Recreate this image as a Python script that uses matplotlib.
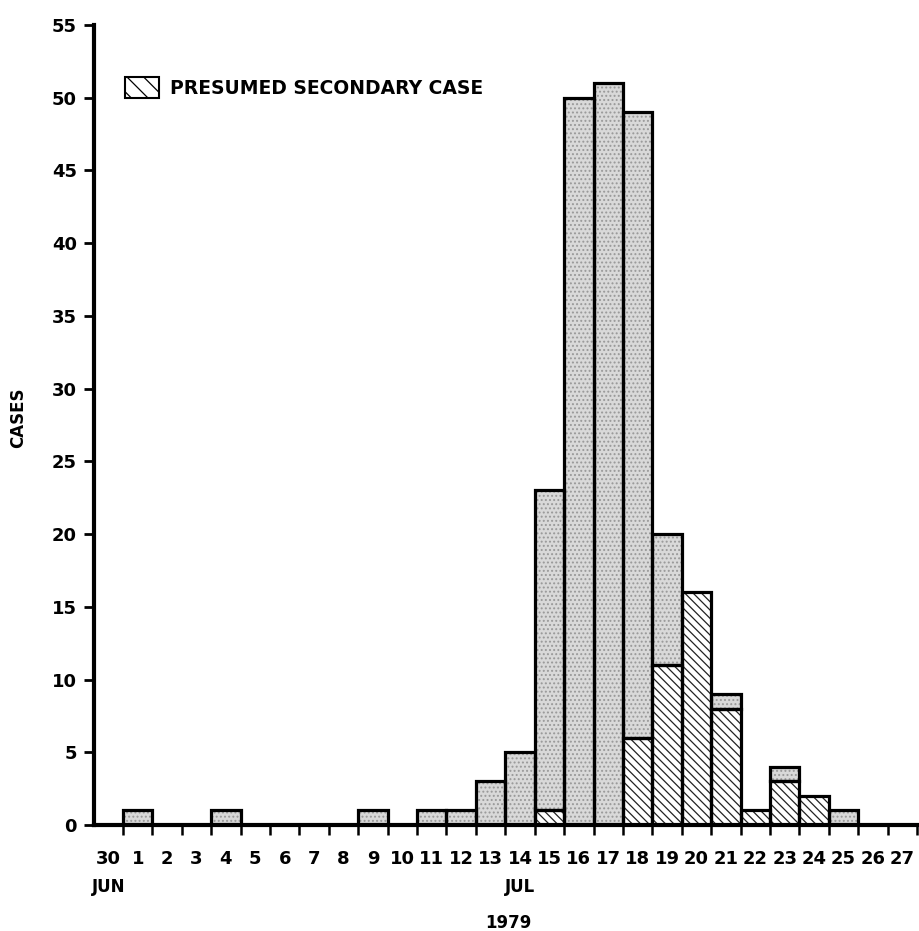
import numpy as np
import matplotlib
matplotlib.use("Agg")
import matplotlib.pyplot as plt
from matplotlib.patches import Patch

# --- data: cases per onset day, 30 Jun .. 27 Jul 1979 ---
day_labels = ["30"] + [str(d) for d in range(1, 28)]
secondary = [0, 0, 0, 0, 0, 0, 0, 0, 0, 0, 0, 0, 0, 0, 0,
             1, 0, 0, 6, 11, 16, 8, 1, 3, 2, 0, 0, 0]
primary = [0, 1, 0, 0, 1, 0, 0, 0, 0, 1, 0, 1, 1, 3, 5,
           22, 50, 51, 43, 9, 0, 1, 0, 1, 0, 1, 0, 0]
y_ticks = list(range(0, 56, 5))

secondary = np.array(secondary)
primary = np.array(primary)
x = np.arange(len(day_labels))

plt.rcParams['font.family'] = ['DejaVu Sans']
plt.rcParams['font.weight'] = 'bold'
plt.rcParams['hatch.linewidth'] = 0.9

fig = plt.figure(figsize=(9.19, 9.31), dpi=100)
ax = fig.add_axes([93.6 / 919, 106 / 931, 823.4 / 919, 800 / 931])

# --- bars: fill/hatch layer, then black outline layer ---
m_sec = secondary > 0
m_pri = primary > 0
ax.bar(x[m_sec], secondary[m_sec], width=1, align='edge',
       facecolor='white', edgecolor='#222222', hatch='\\' * 4, linewidth=0)
ax.bar(x[m_pri], primary[m_pri], width=1, align='edge', bottom=secondary[m_pri],
       facecolor='#d9d9d9', edgecolor='#999999', hatch='....', linewidth=0)
ax.bar(x[m_sec], secondary[m_sec], width=1, align='edge',
       fill=False, edgecolor='black', linewidth=2.3)
ax.bar(x[m_pri], primary[m_pri], width=1, align='edge', bottom=secondary[m_pri],
       fill=False, edgecolor='black', linewidth=2.3)

# --- axes ---
ax.set_xlim(0, 28)
ax.set_ylim(0, 55)
for s in ['top', 'right']:
    ax.spines[s].set_visible(False)
ax.spines['left'].set_linewidth(3)
ax.spines['bottom'].set_linewidth(3)

ax.set_yticks(y_ticks)
ax.tick_params(axis='y', direction='out', length=7, width=2, labelsize=13, pad=5)

ax.set_xticks(x + 0.5)
ax.set_xticklabels(day_labels)
ax.set_xticks(np.arange(1, 29), minor=True)
ax.tick_params(axis='x', which='major', length=0, labelsize=13, pad=18)
ax.tick_params(axis='x', which='minor', direction='out', length=7, width=1.8)

xt = ax.get_xaxis_transform()
ax.text(0.5, -0.077, "JUN", transform=xt, ha='center', va='center', fontsize=12)
ax.text(14.5, -0.077, "JUL", transform=xt, ha='center', va='center', fontsize=12)
ax.text(14.1, -0.123, "1979", transform=xt, ha='center', va='center', fontsize=12)

fig.text(18 / 919, 1 - 418 / 931, "CASES", rotation=90, ha='center', va='center', fontsize=12)

# --- legend ---
handle = Patch(facecolor='white', edgecolor='black', hatch='\\\\', linewidth=1.5,
               label='PRESUMED SECONDARY CASE')
ax.legend(handles=[handle], loc='upper left', bbox_to_anchor=(0.038, 0.935),
          frameon=False, prop={'size': 13.5, 'weight': 'bold'}, handlelength=1.8,
          handleheight=1.35, handletextpad=0.6, borderpad=0, borderaxespad=0)

fig.savefig("out.png", dpi=100, facecolor='white')
